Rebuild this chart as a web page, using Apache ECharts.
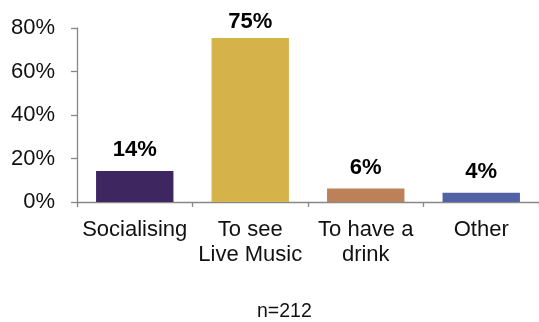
<!DOCTYPE html>
<html><head><meta charset="utf-8">
<script src="https://cdn.jsdelivr.net/npm/echarts@6/dist/echarts.min.js"></script>
<style>html,body{margin:0;padding:0;background:#fff}#c{width:539px;height:322px}</style>
</head><body><div id="c"></div>
<script>
const categories = ['Socialising', 'To see\nLive Music', 'To have a\ndrink', 'Other'];
const values = [14.2, 75.4, 6.2, 4.2];
const colors = ['#3E2660', '#D6B24B', '#BD8159', '#5061A6'];
const yTicks = [0, 20, 40, 60, 80];
const note = 'n=212';

const FONT = '"Liberation Sans", Arial, sans-serif';
const chart = echarts.init(document.getElementById('c'), null, {renderer: 'canvas'});
chart.setOption({
  animation: false,
  grid: {left: 77, top: 28, width: 471, height: 174, containLabel: false},
  xAxis: {
    type: 'category', data: categories,
    axisLine: {lineStyle: {color: '#888', width: 1.3}},
    axisTick: {show: true, length: 5, lineStyle: {color: '#888', width: 1.3}},
    axisLabel: {color: '#111', fontSize: 22, fontFamily: FONT, margin: 15, lineHeight: 25, interval: 0}
  },
  yAxis: {
    type: 'value', min: yTicks[0], max: yTicks[yTicks.length - 1], interval: 20,
    axisLine: {show: true, lineStyle: {color: '#888', width: 1.3}},
    axisTick: {show: true, length: 6, lineStyle: {color: '#888', width: 1.3}},
    splitLine: {show: false},
    axisLabel: {color: '#111', fontSize: 22, fontFamily: FONT, margin: 22, formatter: v => v + '%'}
  },
  series: [{
    type: 'bar', barCategoryGap: '33%',
    data: values.map((v, i) => ({
      value: v,
      itemStyle: {color: colors[i]},
      label: {distance: i === 1 ? 5 : 10}
    })),
    label: {show: true, position: 'top', color: '#000', fontWeight: 'bold', fontSize: 22, fontFamily: FONT,
      formatter: p => Math.round(p.value) + '%'}
  }],
  graphic: [{type: 'text', x: 257, y: 312,
    style: {text: note, fontSize: 19.5, fontFamily: FONT, fill: '#111', align: 'left', verticalAlign: 'middle'}}]
});
</script></body></html>
